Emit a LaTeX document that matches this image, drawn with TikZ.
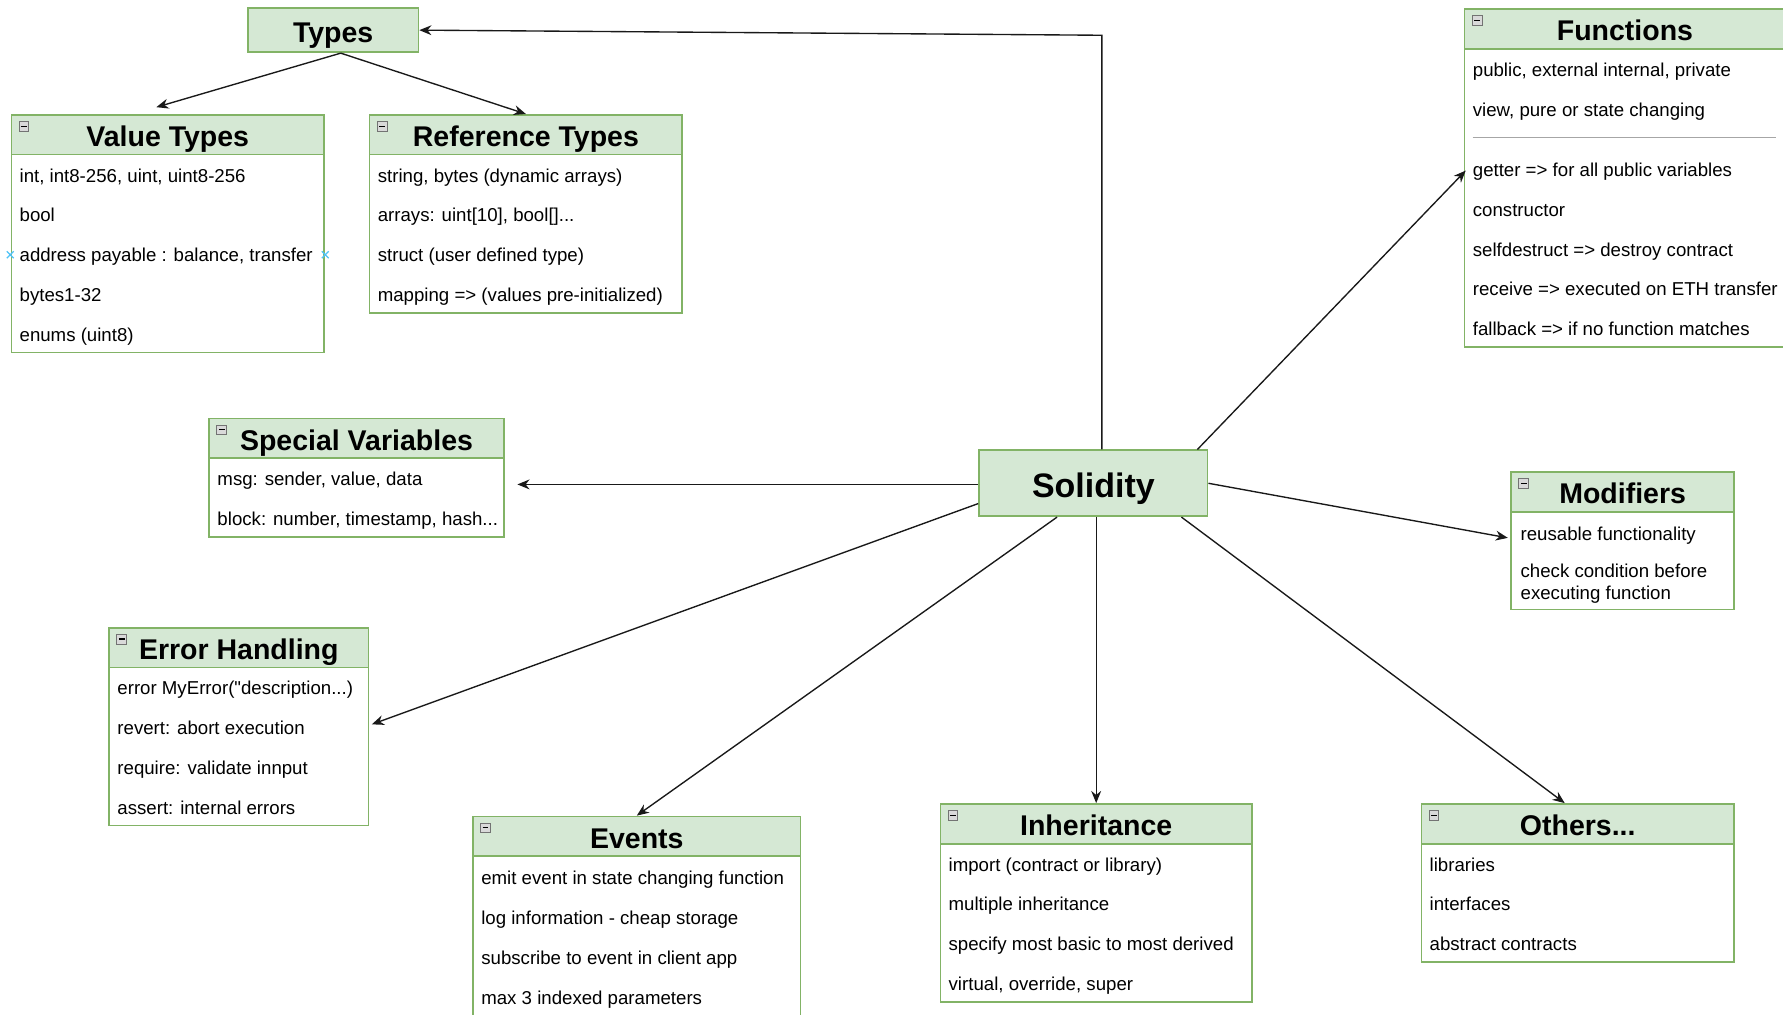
\documentclass[tikz,border=0pt]{standalone}
\usepackage{fontspec}
\setmainfont{Liberation Sans}[Ligatures=TeXOff]
\usetikzlibrary{arrows.meta,fit,calc}
\definecolor{hdrgreen}{HTML}{D5E8D4}
\definecolor{boxgreen}{HTML}{82B366}
\definecolor{selblue}{HTML}{4FC3F7}
\tikzset{
  hdr/.style={draw=boxgreen, fill=hdrgreen, line width=1.1pt, inner sep=0pt},
  bodybox/.style={draw=boxgreen, fill=white, line width=1.1pt, inner sep=0pt},
  outerbox/.style={inner sep=0pt, outer sep=0pt},
  ttl/.style={font=\fontsize{18.8}{22}\selectfont\bfseries, inner sep=0pt, text height=15.7pt, text depth=0pt},
  bigttl/.style={font=\fontsize{22.4}{26}\selectfont\bfseries, inner sep=0pt, text height=19pt, text depth=0pt},
  item/.style={font=\fontsize{12.3}{14.25}\selectfont, anchor=west, inner sep=0pt, text height=11.8pt, text depth=2.6pt},
  icon/.style={draw=black!55, fill=black!15, line width=0.5pt, minimum size=6.5pt, inner sep=0pt},
  arr/.style={-{Stealth[length=8pt,width=6.5pt]}, line width=0.9pt, black!90},
  sepline/.style={draw=black!35, line width=0.5pt},
  selmark/.style={draw=selblue, line width=0.8pt},
}
\begin{document}
\begin{tikzpicture}[x=0.75pt,y=-0.75pt]
\path[use as bounding box] (0,0) rectangle (1568,892);
\clip (0,0) rectangle (1568,892);
\fill[white] (0,0) rectangle (1568,892);

% Types
\node[hdr, fit={(218,7) (368,46)}] (types) {};
\node[ttl] (typest) at (types.center) {Types};

% Value Types
\node[hdr, fit={(10,101) (285,136)}] (vth) {};
\node[bodybox, fit={(10,136) (285,310)}] (vtb) {};
\node[outerbox, fit=(vth)(vtb)] (vt) {};
\node[ttl] (vtt) at (vth.center) {Value Types};
\node[icon] (vti) at (21,111) {\rule{3.8pt}{0.8pt}};
\node[item] (vt1) at (17,154) {int, int8-256, uint, uint8-256};
\node[item] (vt2) at (17,189) {bool};
\node[item] (vt3) at (17,224) {address payable : balance, transfer};
\node[item] (vt4) at (17,259) {bytes1-32};
\node[item] (vt5) at (17,294) {enums (uint8)};
\draw[selmark] (6,221) -- (12,227) (6,227) -- (12,221);
\draw[selmark] (283,221) -- (289,227) (283,227) -- (289,221);

% Reference Types
\node[hdr, fit={(325,101) (600,136)}] (rth) {};
\node[bodybox, fit={(325,136) (600,275)}] (rtb) {};
\node[outerbox, fit=(rth)(rtb)] (rt) {};
\node[ttl] (rtt) at (rth.center) {Reference Types};
\node[icon] (rti) at (336,111) {\rule{3.8pt}{0.8pt}};
\node[item] (rt1) at (332,154) {string, bytes (dynamic arrays)};
\node[item] (rt2) at (332,189) {arrays: uint[10], bool[]...};
\node[item] (rt3) at (332,224) {struct (user defined type)};
\node[item] (rt4) at (332,259) {mapping => (values pre-initialized)};

% Functions
\node[hdr, fit={(1288,8) (1570,43)}] (fnh) {};
\node[bodybox, fit={(1288,43) (1570,305)}] (fnb) {};
\node[outerbox, fit=(fnh)(fnb)] (fn) {};
\node[ttl] (fnt) at (fnh.center) {Functions};
\node[icon] (fni) at (1299,18) {\rule{3.8pt}{0.8pt}};
\node[item] (fn1) at (1295,61) {public, external internal, private};
\node[item] (fn2) at (1295,96) {view, pure or state changing};
\draw[sepline] (1295,121) -- (1562,121);
\node[item] (fn3) at (1295,149) {getter => for all public variables};
\node[item] (fn4) at (1295,184) {constructor};
\node[item] (fn5) at (1295,219) {selfdestruct => destroy contract};
\node[item] (fn6) at (1295,254) {receive => executed on ETH transfer};
\node[item] (fn7) at (1295,289) {fallback => if no function matches};

% Special Variables
\node[hdr, fit={(184,368) (443,403)}] (svh) {};
\node[bodybox, fit={(184,403) (443,472)}] (svb) {};
\node[outerbox, fit=(svh)(svb)] (sv) {};
\node[ttl] (svt) at (svh.center) {Special Variables};
\node[icon] (svi) at (195,378) {\rule{3.8pt}{0.8pt}};
\node[item] (sv1) at (191,421) {msg: sender, value, data};
\node[item] (sv2) at (191,456) {block: number, timestamp, hash...};

% Solidity
\node[hdr, fit={(861,396) (1062,454)}] (sol) {};
\node[bigttl] (solt) at (sol.center) {Solidity};

% Modifiers
\node[hdr, fit={(1329,415) (1525,450)}] (modh) {};
\node[bodybox, fit={(1329,450) (1525,536)}] (modb) {};
\node[outerbox, fit=(modh)(modb)] (mod) {};
\node[ttl] (modt) at (modh.center) {Modifiers};
\node[icon] (modi) at (1340,425) {\rule{3.8pt}{0.8pt}};
\node[item] (mod1) at (1337,469) {reusable functionality};
\node[font=\fontsize{12.3}{14.25}\selectfont, anchor=north west, inner sep=0pt, align=left] (mod2) at (1337,496) {check condition before\\executing function};

% Error Handling
\node[hdr, fit={(96,552) (324,587)}] (ehh) {};
\node[bodybox, fit={(96,587) (324,726)}] (ehb) {};
\node[outerbox, fit=(ehh)(ehb)] (eh) {};
\node[ttl] (eht) at (ehh.center) {Error Handling};
\node[icon] (ehi) at (107,562) {\rule{3.8pt}{0.8pt}};
\node[item] (eh1) at (103,605) {error MyError("description...)};
\node[item] (eh2) at (103,640) {revert: abort execution};
\node[item] (eh3) at (103,675) {require: validate innput};
\node[item] (eh4) at (103,710) {assert: internal errors};

% Events
\node[hdr, fit={(416,718) (704,753)}] (evh) {};
\node[bodybox, fit={(416,753) (704,900)}] (evb) {};
\node[outerbox, fit=(evh)(evb)] (ev) {};
\node[ttl] (evt) at (evh.center) {Events};
\node[icon] (evi) at (427,728) {\rule{3.8pt}{0.8pt}};
\node[item] (ev1) at (423,772) {emit event in state changing function};
\node[item] (ev2) at (423,807) {log information - cheap storage};
\node[item] (ev3) at (423,842) {subscribe to event in client app};
\node[item] (ev4) at (423,877) {max 3 indexed parameters};

% Inheritance
\node[hdr, fit={(827,707) (1101,742)}] (inhh) {};
\node[bodybox, fit={(827,742) (1101,881)}] (inhb) {};
\node[outerbox, fit=(inhh)(inhb)] (inh) {};
\node[ttl] (inht) at (inhh.center) {Inheritance};
\node[icon] (inhi) at (838,717) {\rule{3.8pt}{0.8pt}};
\node[item] (inh1) at (834,760) {import (contract or library)};
\node[item] (inh2) at (834,795) {multiple inheritance};
\node[item] (inh3) at (834,830) {specify most basic to most derived};
\node[item] (inh4) at (834,865) {virtual, override, super};

% Others
\node[hdr, fit={(1250,707) (1525,742)}] (othh) {};
\node[bodybox, fit={(1250,742) (1525,846)}] (othb) {};
\node[outerbox, fit=(othh)(othb)] (oth) {};
\node[ttl] (otht) at (othh.center) {Others...};
\node[icon] (othi) at (1261,717) {\rule{3.8pt}{0.8pt}};
\node[item] (oth1) at (1257,760) {libraries};
\node[item] (oth2) at (1257,795) {interfaces};
\node[item] (oth3) at (1257,830) {abstract contracts};

% Connectors
\coordinate (turn) at (969,31);
\coordinate (svend) at (455,426);
\coordinate (ehend) at (327,637);
\coordinate (modend) at (1326,473);
\coordinate (fnend) at (1289,150);
\draw[arr] (sol.north -| turn) -- (turn) -- (types.east);
\draw[arr] ([xshift=5pt]types.south) -- ([shift={(-10,-6)}]vt.north);
\draw[arr] ([xshift=5pt]types.south) -- (rt.north);
\draw[arr] (sol.west |- svend) -- (svend);
\draw[arr] (sol.190.7) -- (ehend);
\draw[arr] (sol.223.6) -- (ev.north);
\draw[arr] (sol.south -| inh.north) -- (inh.north);
\draw[arr] (sol.339.5) -- ([xshift=-8.6pt]oth.north);
\draw[arr] (sol.east) -- (modend);
\draw[arr] (sol.18.7) -- (fnend);
\end{tikzpicture}
\end{document}
